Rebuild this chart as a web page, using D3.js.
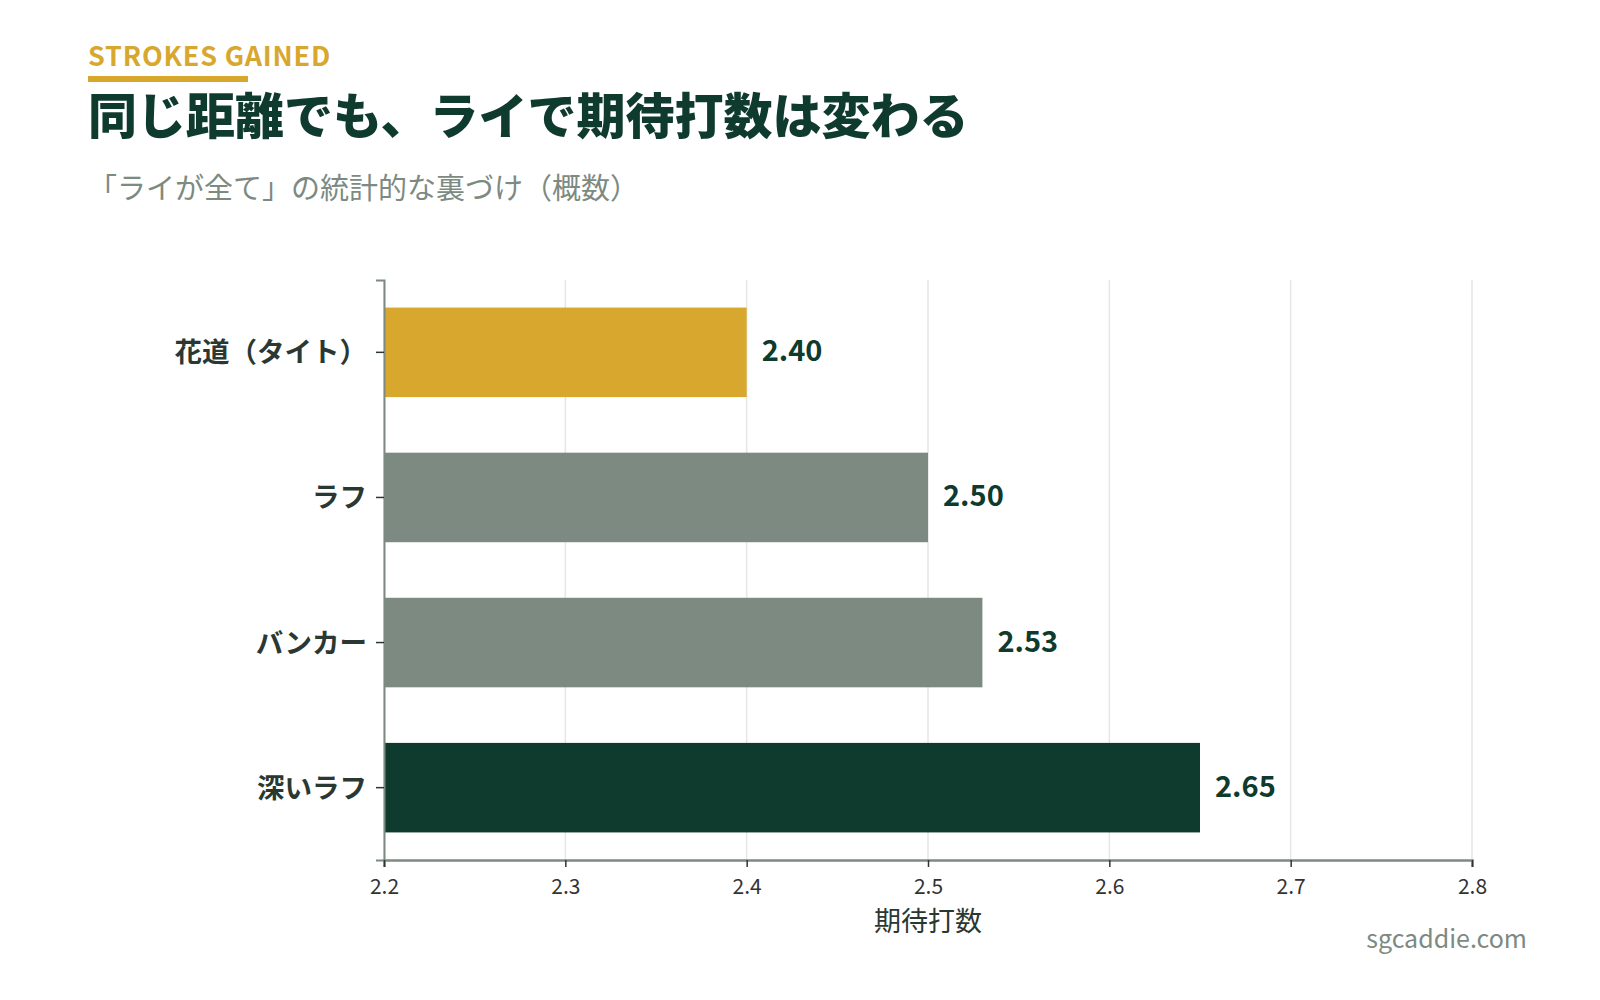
<!DOCTYPE html>
<html>
<head>
<meta charset="utf-8">
<script src="https://cdn.jsdelivr.net/npm/d3@7"></script>
<style>
  body { margin:0; background:#fff; }
  svg text { font-family:"Noto Sans CJK JP","Noto Sans",sans-serif; }
</style>
</head>
<body>
<svg id="chart" width="1600" height="1000"></svg>
<script>
// data
var lies = ["花道（タイト）", "ラフ", "バンカー", "深いラフ"];
var expected = [2.40, 2.50, 2.53, 2.65];
var barColors = ["#d8a72e", "#7c8a82", "#7c8a82", "#0f3a2e"];
var xTicks = [2.2, 2.3, 2.4, 2.5, 2.6, 2.7, 2.8];

var svg = d3.select("#chart");
var m = {left:384, right:1472, top:280, bottom:860};

var x = d3.scaleLinear().domain([2.2, 2.8]).range([m.left, m.right]);
var y = d3.scaleBand().domain(lies).range([m.top, m.bottom])
  .paddingInner(0.383).paddingOuter(0.19);

// header
svg.append("text").attr("x",88).attr("y",66)
  .attr("font-size",27).attr("font-weight",700).attr("fill","#d8a72e")
  .attr("letter-spacing",0.8)
  .text("STROKES GAINED");
svg.append("rect").attr("x",88).attr("y",76).attr("width",160).attr("height",6)
  .attr("fill","#d8a72e");
svg.append("text").attr("x",88).attr("y",134)
  .attr("font-size",49).attr("font-weight",900).attr("fill","#0f3a2e")
  .text("同じ距離でも、ライで期待打数は変わる");
svg.append("text").attr("x",88).attr("y",199)
  .attr("font-size",29).attr("fill","#7c8a82")
  .text("「ライが全て」の統計的な裏づけ（概数）");

// grid
svg.append("g").selectAll("line").data(xTicks).join("line")
  .attr("x1",d=>x(d)).attr("x2",d=>x(d))
  .attr("y1",m.top).attr("y2",m.bottom)
  .attr("stroke","#e6e6e6").attr("stroke-width",1.5);

// bars
svg.append("g").selectAll("rect").data(lies).join("rect")
  .attr("x",x(2.2)).attr("y",d=>y(d))
  .attr("width",(d,i)=>x(expected[i])-x(2.2))
  .attr("height",y.bandwidth())
  .attr("fill",(d,i)=>barColors[i]);

// value labels
svg.append("g").selectAll("text").data(lies).join("text")
  .attr("x",(d,i)=>x(expected[i])+15)
  .attr("y",d=>y(d)+y.bandwidth()/2+9)
  .attr("font-size",29).attr("font-weight",700).attr("fill","#0f3a2e")
  .text((d,i)=>expected[i].toFixed(2));

// y axis
var yAxis = svg.append("g").attr("transform","translate("+m.left+",0)")
  .call(d3.axisLeft(y).tickSize(8).tickPadding(9));
yAxis.select(".domain").attr("stroke","#7c8a82").attr("stroke-width",2);
yAxis.selectAll(".tick line").attr("stroke","#2b3832").attr("stroke-width",1.5);
yAxis.selectAll(".tick text").attr("font-size",27.5).attr("font-weight",700)
  .attr("fill","#2b3832").attr("dy",null).attr("y",10)
  .style("font-family",'"Noto Sans CJK JP",sans-serif');

// x axis
var xAxis = svg.append("g").attr("transform","translate(0,"+m.bottom+")")
  .call(d3.axisBottom(x).tickValues(xTicks).tickFormat(d3.format(".1f")).tickSize(7).tickPadding(8));
xAxis.select(".domain").attr("stroke","#7c8a82").attr("stroke-width",2.5);
xAxis.selectAll(".tick line").attr("stroke","#2b3832").attr("stroke-width",1.5);
xAxis.selectAll(".tick text").attr("font-size",21).attr("fill","#333")
  .attr("dy",null).attr("y",34)
  .style("font-family",'"Noto Sans CJK JP",sans-serif');

svg.append("text").attr("x",(m.left+m.right)/2).attr("y",931)
  .attr("text-anchor","middle").attr("font-size",27).attr("fill","#2b3832")
  .text("期待打数");

svg.append("text").attr("x",1527).attr("y",948)
  .attr("text-anchor","end").attr("font-size",25).attr("fill","#7c8a82")
  .text("sgcaddie.com");
</script>
</body>
</html>
